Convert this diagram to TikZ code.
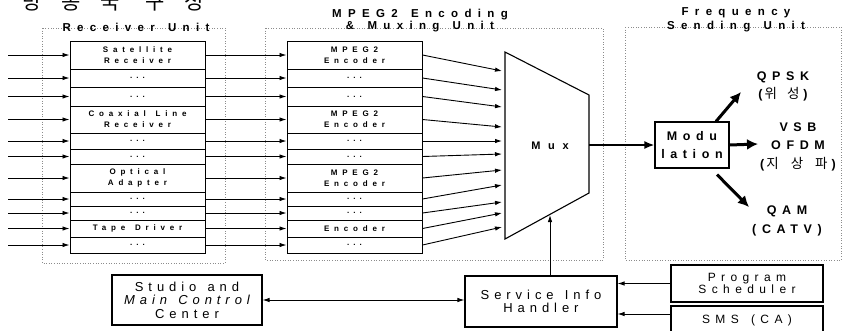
\documentclass[tikz,border=0pt]{standalone}
\usepackage{fontspec}
\setmainfont{Liberation Sans}
\newfontfamily\spacedfont[LetterSpace=45, WordSpace=1.4]{Liberation Sans}
\newfontfamily\slotfont[LetterSpace=60, WordSpace=1.4]{Liberation Sans}
\newfontfamily\widefont[LetterSpace=38, WordSpace=1.3]{Liberation Sans}
\newfontfamily\krfont{Noto Sans CJK KR}
\newcommand{\dotrow}{.\hspace{4pt}.\hspace{4pt}.}
\usetikzlibrary{arrows.meta}

\begin{document}
\begin{tikzpicture}[x=1pt, y=-1pt,
    every node/.style={inner sep=0pt},
    unitframe/.style={draw=black!45, dotted, line width=0.6pt},
    unittitle/.style={font=\spacedfont\bfseries\addfontfeature{LetterSpace=55}\fontsize{11.5}{12}\selectfont, align=center},
    slot/.style={rectangle, draw, line width=1pt, minimum width=135, align=center,
                 font=\slotfont\bfseries\fontsize{8}{11}\selectfont},
    block/.style={rectangle, draw, line width=1.1pt, align=center,
                  font=\widefont\fontsize{13}{13.5}\selectfont},
    outlabel/.style={font=\spacedfont\bfseries\fontsize{12.5}{18.5}\selectfont, align=center},
    arrow/.style={-{Latex[length=7pt, width=4.5pt]}, line width=0.9pt},
    midarrow/.style={-{Latex[length=10pt, width=8pt]}, line width=1.8pt},
    bigarrow/.style={-{Latex[length=11pt, width=11pt]}, line width=3pt}
]
    \useasboundingbox (0,0) rectangle (843,330);

    \node[anchor=base west, font=\krfont\fontsize{21}{21}\selectfont] (title) at (22,9)
        {방\hspace{20pt}송\hspace{20pt}국\hspace{25pt}구\hspace{20pt}성};

    \draw[unitframe] (42,28) rectangle (225,263);
    \draw[unitframe] (265,28) rectangle (603,260);
    \draw[unitframe] (625,27) rectangle (841,260);
    \node[unittitle] (rxtitle) at (136,27) {Receiver Unit};
    \node[unittitle] (enctitle) at (420,21) {MPEG2 Encoding\\\& Muxing Unit};
    \node[unittitle] (freqtitle) at (736,20) {Frequency\\[1.5pt]Sending Unit};

    \foreach \n/\t/\b/\rt/\et/\m in {
        1/41/69/{Satellite\\Receiver}/{MPEG2\\Encoder}/71,
        2/69/87/{\dotrow}/{\dotrow}/90,
        3/87/106/{\dotrow}/{\dotrow}/107,
        4/106/133/{Coaxial Line\\Receiver}/{MPEG2\\Encoder}/127,
        5/133/149/{\dotrow}/{\dotrow}/141,
        6/149/164/{\dotrow}/{\dotrow}/154,
        7/164/192/{Optical\\Adapter}/{MPEG2\\Encoder}/170,
        8/192/206/{\dotrow}/{\dotrow}/185,
        9/206/220/{\dotrow}/{\dotrow}/202,
        10/220/237/{Tape Driver}/{Encoder}/213,
        11/237/253/{\dotrow}/{\dotrow}/227}
    {
        \node[slot, minimum height={\b-\t}] (r\n) at (137.5, {(\t+\b)/2}) {\rt};
        \node[slot, minimum height={\b-\t}] (e\n) at (354.5, {(\t+\b)/2}) {\et};
        \coordinate (src\n) at (8, {(\t+\b)/2});
        \coordinate (mx\n) at (502, \m);
        \draw[arrow] (src\n) -- (r\n);
        \draw[arrow] (r\n) -- (e\n);
        \draw[arrow] (e\n.east) -- (mx\n);
    }

    \coordinate (mtl) at (505,52);
    \coordinate (mtr) at (589,95);
    \coordinate (mbr) at (589,193);
    \coordinate (mbl) at (505,239);
    \draw[line width=1.1pt] (mtl) -- (mtr) -- (mbr) -- (mbl) -- cycle;
    \node[font=\spacedfont\bfseries\addfontfeature{LetterSpace=70}\fontsize{11}{12}\selectfont] (mux) at (550,146) {Mux};
    \coordinate (mout) at (589,145);

    \node[block, font=\spacedfont\bfseries\fontsize{12.5}{18}\selectfont,
          minimum width=74, minimum height=46] (mod) at (692,145) {Modu\\lation};
    \draw[midarrow] (mout) -- (mod.west);

    \node[outlabel] (qpsk) at (783,86.5)
        {QPSK\\(\hspace{2pt}{\krfont\mdseries\fontsize{13.5}{18.5}\selectfont 위\hspace{10pt}성}\hspace{4pt})};
    \node[outlabel] (vsb) at (798,146.5)
        {VSB\\OFDM\\(\hspace{2pt}{\krfont\mdseries\fontsize{13.5}{18.5}\selectfont 지\hspace{12pt}상\hspace{12pt}파}\hspace{4pt})};
    \node[outlabel] (qam) at (787,221) {QAM\\(CATV)};
    \coordinate (qpsktip) at (741,92);
    \coordinate (vsbtip) at (758,144);
    \coordinate (qamtip) at (749,207);
    \draw[bigarrow] ([xshift=24pt]mod.north) -- (qpsktip);
    \draw[bigarrow] (mod.east) -- (vsbtip);
    \draw[bigarrow] ([xshift=25pt,yshift=-6pt]mod.south) -- (qamtip);

    \node[block, minimum width=150, minimum height=50] (studio) at (187,300)
        {Studio and\\{\itshape Main Control}\\Center};
    \node[block, minimum width=152, minimum height=51] (svc) at (541,301.5) {Service Info\\Handler};
    \node[block, font=\spacedfont\fontsize{12}{11.5}\selectfont,
          minimum width=152, minimum height=37] (prog) at (747,283.5) {Program\\Scheduler};
    \node[block, font=\spacedfont\fontsize{12}{12}\selectfont,
          minimum width=152, minimum height=28] (sms) at (747,320) {SMS (CA)};

    \coordinate (muxin) at (550,215);
    \draw[arrow] ([xshift=9pt]svc.north) -- (muxin);
    \draw[arrow] (prog.west) -- (prog.west -| svc.east);
    \draw[arrow] ([yshift=6pt]sms.west) -- ([yshift=6pt]sms.west -| svc.east);
    \draw[{Latex[length=7pt, width=4.5pt]}-{Latex[length=7pt, width=4.5pt]}, line width=0.9pt]
        (studio.east) -- (studio.east -| svc.west);
\end{tikzpicture}
\end{document}
